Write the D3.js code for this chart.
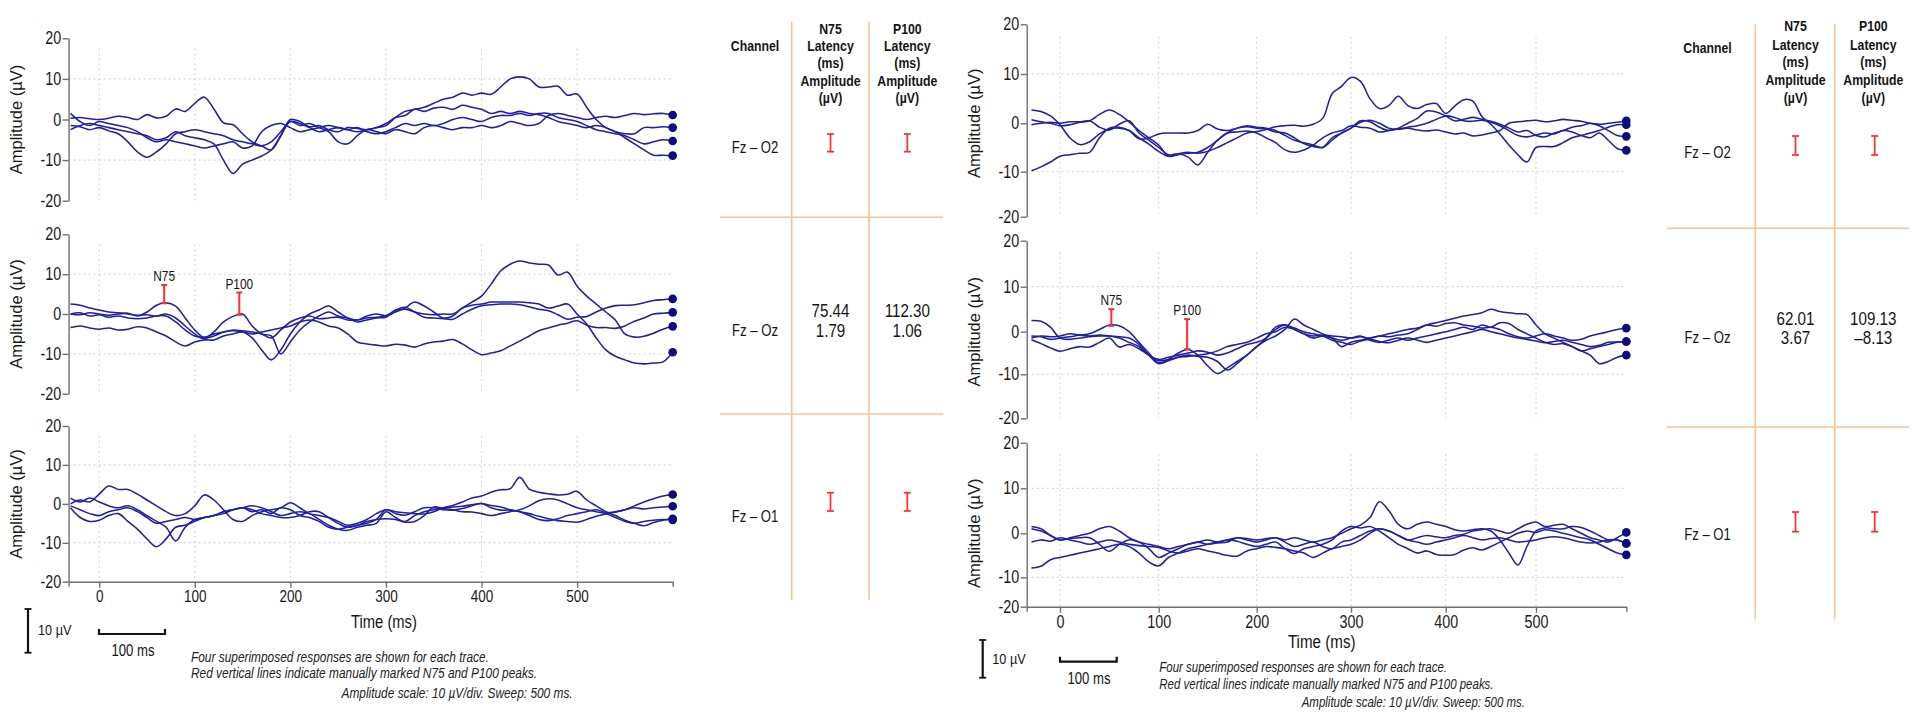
<!DOCTYPE html>
<html><head><meta charset="utf-8">
<script src="https://cdn.jsdelivr.net/npm/d3@7"></script>
<style>html,body{margin:0;padding:0;background:#fff;overflow:hidden}svg{display:block}</style>
</head><body>
<svg id="c" width="1912" height="727"></svg>
<script>
// ---------------- DATA ----------------
const timeMs = [-30,-20,-10,0,10,20,30,40,50,60,70,80,90,100,110,120,130,140,150,160,170,180,190,200,210,220,230,240,250,260,270,280,290,300,310,320,330,340,350,360,370,380,390,400,410,420,430,440,450,460,470,480,490,500,510,520,530,540,550,560,570,580,590,600];
const yTicks = [20,10,0,-10,-20];
const xTicks = [0,100,200,300,400,500];
const gridY = [10,-10];

// Left recording, Fz-O2
const leftO2_1 = [0.3,0.5,0.2,0,0.3,0.8,0.5,0,1.2,0.4, 0.8,2.6,2.0,4.0,5.5,2.6,-0.8,-1.3,-3.5,-5.5, -6.5,-7.5,-4.0,0,-0.5,-1.8,-1.5,-2.5,-3.0,-2.0, -2.2,-2.5,-2.0,-1.5,0.5,2.0,2.5,3.0,4.0,5.0, 5.5,6.5,6.0,6.5,6.2,8.0,10.0,10.5,10.0,8.0, 8.0,8.2,6.0,6.3,3.0,0,-2.0,-3.0,-4.5,-6.0, -7.5,-8.8,-8.8,-8.9];
const leftO2_2 = [-1.5,-1.8,-2.5,-2.0,-2.8,-3.5,-5.5,-8.0,-9.3,-8.0, -6.0,-3.5,-3.0,-2.5,-3.0,-3.5,-4.0,-5.0,-5.5,-6.0, -6.5,-5.5,-3.0,-0.5,-1.0,-2.0,-3.0,-2.5,-2.0,-2.5, -3.0,-2.5,-2.0,-1.0,0.5,1.0,2.5,2.0,2.8,3.0, 2.5,3.5,3.0,2.5,1.5,2.0,1.5,2.0,1.5,1.2, 0.5,-0.5,-1.0,-1.5,-2.0,-1.5,-2.0,-3.0,-3.5,-3.5, -2.0,-2.0,-1.8,-2.0];
const leftO2_3 = [-2.5,-1.5,-1.0,-1.5,-2.0,-2.5,-3.0,-3.5,-4.0,-5.0, -4.5,-3.0,-4.0,-4.5,-5.0,-6.0,-10.0,-13.3,-11.0,-10.0, -9.0,-7.5,-4.0,-0.5,-1.5,-1.0,-2.0,-3.0,-5.5,-6.0, -4.0,-2.5,-3.0,-3.5,-2.5,-3.0,-3.5,-2.0,-1.5,-2.0, -2.5,-2.0,-2.0,-1.5,-2.0,-1.5,-0.5,-1.0,-1.5,-1.0, 1.0,1.5,1.0,0.5,0,0.5,0.8,0.5,1.0,1.5, 1.2,1.4,1.5,1.1];
const leftO2_4 = [1.5,-0.5,-1.5,-0.5,-1.0,-1.5,-2.0,-3.0,-4.5,-5.5, -5.0,-5.5,-6.0,-6.5,-7.0,-6.5,-6.0,-5.5,-7.0,-6.5, -3.0,-1.5,-1.0,-2.0,-3.0,-2.5,-2.0,-1.5,-2.0,-2.5, -2.0,-3.0,-3.5,-3.0,-2.0,-1.0,-1.5,-1.0,-1.5,-1.0, 0,0.5,0,-0.5,0.5,1.0,1.0,1.5,1.0,1.5, 1.5,0.5,0,-0.5,-1.5,-2.5,-3.0,-3.5,-4.0,-5.0, -6.0,-5.5,-5.0,-5.3];
// Left recording, Fz-Oz
const leftOz_1 = [0,-0.2,0.3,0,-0.3,0,0.2,-0.5,0.5,2.2, 2.8,2.0,-1.0,-4.0,-6.0,-5.5,-4.5,-4.0,-4.2,-4.5, -5.0,-6.0,-4.0,-2.0,-1.0,-0.5,-1.2,-1.0,-0.8,-1.5, -1.5,-1.0,-0.8,-0.5,0.5,1.5,3.0,2.0,0.5,-1.0, -0.5,1.5,2.2,2.5,3.0,3.0,3.0,3.0,2.8,2.5, 1.5,2.0,2.5,0,-2.5,-6.0,-9.0,-10.6,-11.5,-12.3, -12.5,-12.3,-12.0,-9.6];
const leftOz_2 = [2.5,2.2,1.5,1.0,0.5,0.3,0,-0.3,-0.2,-0.5, 0,-1.0,-3.0,-5.0,-6.2,-4.5,-2.0,-0.6,0,-3.0, -5.0,-5.5,-10.0,-7.0,-4.0,-2.0,-0.5,0.5,-0.5,-1.0, -1.5,-0.5,0,-0.4,1.0,1.7,0.5,-0.8,-1.0,-1.2, -1.3,0,1.2,2.1,2.3,2.5,2.5,2.3,1.8,1.2, 0.8,-0.2,-1.3,-0.8,-0.6,0.5,1.5,2.1,2.2,2.3, 2.8,3.4,3.6,3.8];
const leftOz_3 = [-3.4,-3.0,-3.5,-3.8,-3.5,-4.0,-3.8,-3.2,-3.5,-4.5, -5.5,-7.0,-8.0,-7.0,-6.5,-6.5,-5.5,-5.0,-4.5,-6.0, -9.0,-11.5,-9.0,-5.0,-2.0,0,1.0,2.0,0.5,-1.0, -2.0,-1.5,-1.0,-0.8,0.8,1.2,0.5,0,-0.2,0, 0,1.5,3.0,4.5,7.5,10.8,12.5,13.3,12.8,12.5, 12.3,9.8,10.5,7.0,4.5,2.5,0.5,-1.5,-5.0,-5.8, -5.6,-4.8,-3.8,-3.1];
const leftOz_4 = [0,0.3,-0.5,-0.2,-0.8,-0.5,-1.0,-1.2,-1.0,-0.5, -0.5,-2.0,-4.0,-5.5,-5.8,-5.0,-4.5,-4.2,-4.5,-5.0, -4.5,-4.0,-3.5,-3.0,-2.0,-1.5,-2.0,-3.0,-3.5,-5.0, -7.0,-7.5,-7.8,-8.0,-7.6,-7.8,-8.3,-7.5,-7.0,-6.8, -6.4,-7.5,-9.0,-10.2,-9.8,-9.2,-8.0,-6.8,-5.5,-4.2, -3.5,-2.8,-2.3,-1.7,-2.8,-3.4,-3.4,-3.6,-3.0,-1.8, -1.0,0,0.2,0.4];
// Left recording, Fz-O1
const leftO1_1 = [0,1.0,0.5,2.5,4.6,3.7,3.7,2.5,1.0,-0.5, -2.0,-3.0,-2.5,-0.5,2.3,1.0,-1.5,-4.0,-4.5,-3.0, -2.0,-1.5,-1.0,0.3,-1.0,-2.5,-3.0,-3.5,-4.5,-5.5, -5.0,-4.0,-2.5,-1.5,-2.0,-2.3,-2.5,-2.6,-2.0,-1.0, -0.4,0.5,1.5,2.0,3.0,3.6,3.9,6.8,3.8,3.0, 2.6,2.3,2.5,3.2,1.0,-0.5,-2.0,-3.0,-4.2,-5.0, -5.6,-4.8,-4.2,-3.8];
const leftO1_2 = [1.5,0.5,1.5,0.5,-0.5,-1.0,-0.5,-1.5,-3.0,-4.5, -6.0,-9.5,-6.0,-4.0,-3.5,-3.0,-2.0,-1.5,-1.0,-2.0, -1.5,-2.5,-1.0,-1.5,-3.0,-3.5,-4.5,-6.0,-6.5,-6.0, -5.5,-5.0,-4.0,-1.5,-2.5,-2.9,-2.0,-1.0,-1.0,-1.5, -1.6,-1.2,-0.5,0.1,-1.0,-1.6,-1.6,-2.0,-2.5,-3.2, -3.8,-4.3,-4.5,-4.7,-4.0,-3.2,-2.6,-2.1,-1.5,-0.5, 0.5,1.3,2.0,2.4];
const leftO1_3 = [-0.5,-1.5,-2.5,-3.0,-2.0,-1.5,-1.0,-2.0,-3.5,-5.0, -4.5,-4.0,-3.5,-4.0,-3.5,-3.0,-2.0,-1.5,-1.0,-0.5, -1.0,-2.0,-3.0,-2.5,-2.0,-2.5,-4.0,-5.5,-6.5,-6.8, -6.0,-5.5,-5.0,-2.0,-3.5,-4.5,-3.0,-2.0,-1.5,-1.0, -0.8,-0.6,-0.2,0.1,-0.4,-0.8,-1.5,-2.0,-3.0,-4.0, -4.3,-3.8,-3.0,-2.5,-2.0,-1.5,-2.2,-2.0,-1.5,-1.0, -1.3,-1.0,-0.8,-0.6];
const leftO1_4 = [-1.0,-3.5,-4.5,-4.2,-3.0,-2.5,-4.5,-6.5,-9.0,-11.0, -9.0,-6.0,-5.5,-4.5,-3.5,-3.0,-2.5,-1.5,-1.0,-1.5, -2.5,-3.0,-3.5,-3.5,-3.0,-2.0,-2.0,-3.5,-5.0,-6.0, -5.5,-4.5,-4.0,-3.8,-4.0,-4.7,-4.5,-3.0,-0.8,-1.2, -1.5,-2.0,-2.1,-2.5,-3.0,-2.5,-2.0,-1.5,-0.5,0.8, 1.3,1.0,0,-1.0,-1.5,-2.0,-2.5,-3.5,-4.5,-5.0, -4.5,-4.2,-4.0,-4.1];

// Right recording, Fz-O2
const rightO2_1 = [2.7,2.4,1.5,-0.3,-3.0,-4.4,-3.8,-2.2,-1.2,-1.0, -1.5,-3.0,-4.3,-5.8,-6.8,-6.3,-6.0,-6.2,-5.8,-5.0, -4.0,-3.0,-2.0,-1.7,-1.3,-0.7,-0.5,-0.4,-0.6,-0.2, 1.0,6.0,7.5,9.3,8.5,5.0,3.0,3.6,5.5,3.6, 3.0,3.8,4.0,2.0,3.5,4.8,4.5,1.4,-0.2,-2.2, -4.5,-6.5,-8.0,-5.0,-4.8,-4.8,-4.0,-3.0,-2.5,-2.0, -1.5,-0.8,-0.3,-0.3];
const rightO2_2 = [0.7,0.3,0,-0.5,-0.3,0.2,0.5,1.8,2.7,1.8, 0.3,-1.5,-3.0,-4.5,-6.8,-6.5,-6.2,-6.0,-5.0,-3.5, -2.0,-1.0,-0.5,-0.8,-1.0,-1.5,-2.5,-3.5,-4.0,-4.5, -5.0,-3.5,-2.0,-1.0,0.2,0.6,0,-1.0,-1.2,-1.0, -1.4,-1.6,-1.4,-1.8,-2.2,-2.0,-2.6,-2.4,-2.0,-1.5, 0,0.3,0.5,0.6,0.3,0.5,0.8,0.6,0.4,0, -0.5,-1.5,-2.5,-2.7];
const rightO2_3 = [-0.3,0,0.2,0,0.3,0.3,0.5,-0.8,-1.4,-0.2, 0.5,-2.0,-3.5,-5.0,-6.5,-6.3,-7.0,-8.6,-6.0,-3.5, -2.0,-1.8,-1.6,-2.0,-3.0,-4.0,-5.5,-6.0,-5.5,-4.5, -3.0,-2.0,-1.5,-0.5,-0.8,-1.0,-1.8,-1.5,-1.2,-0.8, -0.5,0,0.8,1.5,1.2,0.5,0.4,0.6,0.2,-0.5, -1.5,-2.5,-2.8,-2.4,-2.0,-2.2,-1.5,-1.8,-2.5,-3.0, -2.0,-3.5,-5.2,-5.6];
const rightO2_4 = [-9.8,-9.0,-8.0,-6.8,-6.5,-6.2,-6.0,-3.0,-1.0,-0.8, -1.5,-3.2,-3.0,-2.2,-2.0,-2.0,-2.0,-1.5,-0.2,-1.2, -1.5,-1.0,-0.7,-1.0,-1.2,-1.8,-2.0,-3.0,-4.2,-4.8, -5.0,-3.0,-2.0,-1.0,0.5,0.3,-0.8,-1.5,-1.0,0, 1.0,2.5,2.3,1.5,0.5,0.8,1.2,0.8,0.4,-0.2, -1.0,-1.8,-1.5,-2.5,-2.8,-2.0,-1.5,-0.8,-0.5,0, -0.2,0,0.2,0.5];
// Right recording, Fz-Oz
const rightOz_1 = [-1.0,-1.2,-1.8,-1.5,-1.2,-0.8,-0.5,0.5,1.5,1.3, 0,-2.5,-5.0,-7.3,-6.5,-5.0,-4.2,-5.5,-8.0,-9.8, -8.5,-7.0,-5.5,-3.5,-2.0,-1.0,0.5,2.8,1.5,0.5, -0.5,-1.5,-3.5,-2.5,-2.0,-1.5,-1.0,-1.2,-0.8,-0.5, 0.5,1.5,2.0,2.5,3.0,3.5,3.8,4.2,5.0,4.5, 4.2,4.0,3.8,1.5,-0.5,-1.5,-2.5,-3.5,-4.5,-5.5, -7.5,-7.0,-6.0,-5.5];
const rightOz_2 = [2.5,2.3,1.0,-1.5,-1.8,-1.5,-1.2,-1.0,-1.0,-1.5, -2.5,-3.5,-5.5,-6.8,-6.5,-6.0,-5.8,-5.5,-5.2,-4.5, -3.5,-3.0,-2.5,-1.5,-0.5,0,1.0,0.5,-0.5,-1.0, -0.8,-1.0,-1.2,-1.5,-1.2,-1.5,-1.0,-0.5,0,0.5, 0.8,1.5,1.2,1.8,2.0,1.5,1.2,0.8,1.0,0.5, -0.5,-1.2,-1.5,-1.0,-0.5,-1.0,-1.5,-2.0,-1.8,-1.0, -0.5,0,0.5,0.8];
const rightOz_3 = [-1.9,-2.8,-3.8,-4.6,-4.0,-3.5,-3.6,-2.5,-1.5,-3.6, -3.0,-4.0,-5.5,-6.5,-6.0,-5.5,-5.0,-4.5,-4.8,-5.5, -5.0,-4.0,-3.0,-2.5,-1.5,0.5,1.5,0.8,0,-0.5, -1.0,-2.0,-2.5,-3.0,-2.2,-1.8,-2.3,-2.6,-2.0,-1.5, -2.0,-2.5,-2.0,-1.5,-1.0,-0.5,0,0.5,0,-0.5, -1.0,-1.5,-1.8,-2.2,-2.6,-2.3,-2.0,-2.5,-3.0,-3.5, -3.2,-2.5,-2.4,-2.3];
const rightOz_4 = [-1.5,-1.0,-1.2,-1.0,-0.5,-0.8,-1.0,-0.8,-1.0,-1.2, -1.5,-3.0,-5.5,-7.5,-6.8,-6.0,-5.5,-5.8,-6.0,-7.0, -9.0,-7.5,-5.5,-3.5,-1.5,1.0,1.5,0.5,-0.5,-1.5, -1.0,-1.5,-2.0,-1.5,-1.0,-2.0,-2.5,-2.0,-1.5,-2.0, -1.5,-1.0,-0.5,0,0.5,1.0,0.5,1.5,1.0,2.0, 1.8,0.5,-0.5,-1.5,-2.5,-3.0,-2.8,-3.5,-4.5,-4.0, -3.5,-3.0,-2.5,-2.3];
// Right recording, Fz-O1
const rightO1_1 = [1.5,1.0,-0.5,-1.5,-1.0,-0.5,0,1.0,1.5,0.5, -1.0,-2.0,-2.5,-3.0,-3.5,-3.0,-2.5,-2.0,-1.5,-2.0, -1.5,-1.0,-1.2,-1.5,-1.2,-1.0,-1.5,-1.0,-1.5,-2.0, -1.5,-1.0,0,1.0,1.8,3.5,7.0,5.0,2.0,1.0, 2.0,2.5,2.0,1.5,0.8,0.5,0.8,1.0,0.5,-1.5, -4.5,-7.2,-3.0,0.5,1.2,1.0,1.0,1.5,1.3,0.5, -0.5,-1.5,-1.5,-2.3];
const rightO1_2 = [-7.9,-7.5,-6.0,-5.5,-5.0,-4.5,-4.0,-3.5,-3.0,-2.5, -3.0,-4.5,-6.5,-7.4,-5.5,-4.5,-3.5,-3.0,-2.5,-2.0, -1.5,-1.8,-2.5,-3.0,-2.5,-2.0,-3.5,-4.6,-3.5,-3.0, -2.5,-1.5,0.5,1.5,1.2,1.5,0.5,-1.0,-2.5,-3.5, -4.5,-4.0,-4.8,-5.0,-4.8,-3.8,-3.3,-3.8,-3.0,-2.0, -1.0,0,0.5,0.2,0.8,0.5,0,-0.5,-1.0,-1.5, -2.5,-3.5,-4.5,-4.9];
const rightO1_3 = [1.0,0.5,-0.5,-1.5,-1.2,-1.0,-1.0,-2.5,-4.1,-2.5, -1.5,-2.0,-3.5,-5.5,-4.5,-3.5,-2.5,-2.0,-2.5,-2.2, -2.0,-1.0,-1.5,-2.0,-1.5,-1.0,-2.0,-3.0,-2.5,-2.0, -3.0,-3.5,-2.0,-1.5,-0.5,0.5,1.0,0.5,-0.5,-1.5, -1.0,-0.5,-0.8,-1.0,-0.5,-0.2,0.5,0.8,1.0,0.5, 0,1.0,2.0,2.5,1.5,1.8,2.0,1.0,0,-1.0, -1.5,-2.0,-1.0,0.2];
const rightO1_4 = [-2.0,-1.5,-1.8,-1.0,-1.5,-2.0,-2.5,-2.0,-1.5,-2.0, -2.5,-2.8,-3.0,-3.2,-4.0,-4.5,-4.0,-3.5,-4.0,-4.5, -5.0,-5.2,-4.0,-3.5,-3.0,-3.2,-3.5,-4.0,-4.5,-5.5, -4.5,-3.5,-3.0,-2.5,-1.5,0,1.0,0.5,-0.5,-1.5, -2.0,-2.5,-2.0,-1.5,-1.0,-0.5,-1.0,-1.5,-1.2,-1.0, -1.5,-2.0,-1.8,-1.5,-1.0,-0.8,-1.0,-1.5,-2.0,-2.2, -2.0,-1.5,-1.5,-2.3];

// Manually marked peaks (ms, µV top, µV at trace)
const leftMarkers = [{label:"N75", t:68, top:7.3, bottom:2.7}, {label:"P100", t:146.6, top:5.4, bottom:-0.2}];
const rightMarkers = [{label:"N75", t:52, top:5.0, bottom:1.3}, {label:"P100", t:129, top:2.8, bottom:-4.1}];

// Table contents
const channels = ["Fz \u2013 O2", "Fz \u2013 Oz", "Fz \u2013 O1"];
const channelHeader = "Channel";
const n75Header = ["N75", "Latency", "(ms)", "Amplitude", "(\u00b5V)"];
const p100Header = ["P100", "Latency", "(ms)", "Amplitude", "(\u00b5V)"];
const leftN75Values = ["75.44", "1.79"];
const leftP100Values = ["112.30", "1.06"];
const rightN75Values = ["62.01", "3.67"];
const rightP100Values = ["109.13", "\u20138.13"];
const notes = ["Four superimposed responses are shown for each trace.",
               "Red vertical lines indicate manually marked N75 and P100 peaks.",
               "Amplitude scale: 10 \u00b5V/div. Sweep: 500 ms."];

// ---------------- LAYOUT ----------------
const svg = d3.select('#c');
const cv = document.createElement('canvas').getContext('2d');
function mw(f){ cv.font = '50px ' + f; return cv.measureText('Amplitude Latency 0123456789').width; }
const NARROW = mw("'Liberation Sans Narrow'") < 0.9 * mw("'Liberation Sans'");
const HFONT = NARROW ? "'Liberation Sans Narrow','Arial Narrow',sans-serif" : "'Liberation Sans',Arial,sans-serif";
const SX = NARROW ? 1 : 0.82;
const TRACE = '#2020a4', DOT = '#0b0b80', RED = '#ff2d2d', ORANGE = '#f7c39a', AXIS = '#707070';

function txt(g, x, y, s, o = {}) {
  return g.append('text')
    .attr('transform', `translate(${x},${y}) scale(${SX},1)`)
    .attr('text-anchor', o.anchor || 'middle')
    .attr('dy', '0.35em')
    .style('font-family', HFONT).style('font-size', (o.size || 14) + 'px')
    .style('font-weight', o.weight || 400).style('font-style', o.italic ? 'italic' : 'normal')
    .attr('fill', o.fill || '#151515').text(s);
}
function ibeam(g, x, y1, y2, w, sw) {
  g.append('line').attr('x1', x).attr('x2', x).attr('y1', y1).attr('y2', y2).attr('stroke', RED).attr('stroke-width', sw);
  [y1, y2].forEach(yy => g.append('line').attr('x1', x - w/2).attr('x2', x + w/2).attr('y1', yy).attr('y2', yy).attr('stroke', RED).attr('stroke-width', sw));
}
function styleAxis(a, size) {
  a.select('.domain').attr('stroke', AXIS).attr('stroke-width', 1.4);
  a.selectAll('.tick line').attr('stroke', AXIS).attr('stroke-width', 1.4);
  a.selectAll('.tick text').attr('fill', '#1a1a1a').style('font-family', HFONT).style('font-size', size + 'px')
    .attr('transform', `scale(${SX},1)`);
}

function drawPlot(xs, yRange, traces, opt) {
  const y = d3.scaleLinear().domain(yTicks).range(yRange);
  const g = svg.append('g');
  const x0 = xs.range()[0], xEnd = xs(600);
  g.selectAll('line.vg').data(xTicks).join('line')
    .attr('x1', d => xs(d)).attr('x2', d => xs(d)).attr('y1', y(17.5)).attr('y2', y(-20))
    .attr('stroke', '#d2d2d2').attr('stroke-width', 1).attr('stroke-dasharray', '2,3');
  g.selectAll('line.hg').data(gridY).join('line')
    .attr('x1', x0).attr('x2', xEnd).attr('y1', d => y(d)).attr('y2', d => y(d))
    .attr('stroke', '#cccccc').attr('stroke-width', 1).attr('stroke-dasharray', '2,3');
  const ya = g.append('g').attr('transform', `translate(${x0},0)`)
    .call(d3.axisLeft(y).tickValues(yTicks).tickFormat(d => String(d)).tickSize(6).tickSizeOuter(0));
  styleAxis(ya, 17.5);
  g.append('text').attr('transform', `translate(${x0 - 52},${y(0)}) rotate(-90)`)
    .attr('text-anchor', 'middle').attr('dy', '0.35em')
    .style('font-family', "'Liberation Sans',Arial,sans-serif").style('font-size', '16.5px')
    .attr('fill', '#1a1a1a').text('Amplitude (\u00b5V)');
  if (opt.bottom) {
    const xa = g.append('g').attr('transform', `translate(0,${y(-20)})`)
      .call(d3.axisBottom(xs).tickValues(xTicks).tickFormat(d => String(d)).tickSize(6).tickSizeOuter(5));
    styleAxis(xa, opt.xTickSize);
  }
  const line = d3.line().x((d, i) => xs(timeMs[i])).y(d => y(d)).curve(d3.curveCatmullRom.alpha(0.5));
  g.selectAll('path.tr').data(traces).join('path').attr('class', 'tr')
    .attr('d', line).attr('fill', 'none').attr('stroke', TRACE).attr('stroke-width', 1.55)
    .attr('stroke-linejoin', 'round');
  g.selectAll('circle').data(traces).join('circle')
    .attr('cx', xs(timeMs[timeMs.length - 1])).attr('cy', d => y(d[d.length - 1])).attr('r', 4.3).attr('fill', DOT);
  if (opt.markers) {
    opt.markers.forEach(m => {
      const xm = xs(m.t);
      ibeam(g, xm, y(m.top), y(m.bottom), 6, 2);
      txt(g, xm, y(m.top) - 9, m.label, {size: 14.5});
    });
  }
  return y;
}

function drawTable(c, n75v, p100v) {
  const g = svg.append('g');
  c.colX.forEach(x => g.append('line').attr('x1', x).attr('x2', x).attr('y1', c.vTop).attr('y2', c.vBottom)
    .attr('stroke', ORANGE).attr('stroke-width', 1.6));
  c.hY.forEach(yy => g.append('line').attr('x1', c.hX[0]).attr('x2', c.hX[1]).attr('y1', yy).attr('y2', yy)
    .attr('stroke', ORANGE).attr('stroke-width', 1.6));
  txt(g, c.chanX, c.chanHeadY, channelHeader, {size: 15, weight: 700});
  n75Header.forEach((s, i) => txt(g, c.n75X, c.headYs[i], s, {size: 15, weight: 700}));
  p100Header.forEach((s, i) => txt(g, c.p100X, c.headYs[i], s, {size: 15, weight: 700}));
  channels.forEach((s, i) => txt(g, c.chanX, c.rowY[i], s, {size: 16}));
  n75v.forEach((s, i) => txt(g, c.n75X, c.valY[i], s, {size: 18.5}));
  p100v.forEach((s, i) => txt(g, c.p100X, c.valY[i], s, {size: 18.5}));
  c.beamY.forEach(b => { ibeam(g, c.n75X, b[0], b[1], 7, 1.7); ibeam(g, c.p100X + c.beamDx, b[0], b[1], 7, 1.7); });
}

function drawNotes(c) {
  const g = svg.append('g');
  g.append('line').attr('x1', c.vbarX).attr('x2', c.vbarX).attr('y1', c.vbarY[0]).attr('y2', c.vbarY[1]).attr('stroke', '#111').attr('stroke-width', 2.2);
  c.vbarY.forEach(yy => g.append('line').attr('x1', c.vbarX - 3.5).attr('x2', c.vbarX + 3.5).attr('y1', yy).attr('y2', yy).attr('stroke', '#111').attr('stroke-width', 1.8));
  txt(g, c.muX, c.muY, '10 \u00b5V', {size: 15.5, anchor: 'start'});
  g.append('path').attr('d', `M${c.hbar[0]},${c.hbarY - 5}V${c.hbarY}H${c.hbar[1]}V${c.hbarY - 5}`)
    .attr('fill', 'none').attr('stroke', '#111').attr('stroke-width', 2.2);
  txt(g, c.msX, c.msY, '100 ms', {size: 16});
  txt(g, c.timeX, c.timeY, 'Time (ms)', {size: c.timeSize});
  notes.forEach((s, i) => txt(g, c.noteX[i], c.noteY[i], s, {size: c.noteSize, anchor: 'start', italic: true, fill: '#222'}));
}

// Left panel
const xLeft = d3.scaleLinear().domain([-32, 600]).range([68.6, 672.7]);
drawPlot(xLeft, [38.3, 78.9, 119.5, 160.1, 200.7], [leftO2_1, leftO2_2, leftO2_3, leftO2_4], {});
drawPlot(xLeft, [234.3, 274.2, 314, 353.9, 393.7], [leftOz_1, leftOz_2, leftOz_3, leftOz_4], {markers: leftMarkers});
drawPlot(xLeft, [426, 464.9, 503.9, 542.8, 581.7], [leftO1_1, leftO1_2, leftO1_3, leftO1_4], {bottom: true, xTickSize: 16.5});

// Right panel
const xRight = d3.scaleLinear().domain([-35, 0, 100, 200, 300, 400, 500, 600])
  .range([1026.7, 1060, 1158.7, 1256.7, 1351, 1445.7, 1536, 1626.3]);
drawPlot(xRight, [24.3, 74, 123.3, 171.7, 216.7], [rightO2_1, rightO2_2, rightO2_3, rightO2_4], {});
drawPlot(xRight, [240.7, 286.7, 331.7, 374.3, 418.3], [rightOz_1, rightOz_2, rightOz_3, rightOz_4], {markers: rightMarkers});
drawPlot(xRight, [442.7, 488.3, 533.3, 577.3, 606.7], [rightO1_1, rightO1_2, rightO1_3, rightO1_4], {bottom: true, xTickSize: 17.5});

drawTable({colX: [791.7, 869], vTop: 21.7, vBottom: 600, hY: [217.3, 414], hX: [720, 943.3],
  chanX: 755, chanHeadY: 46, n75X: 830.5, p100X: 907.3, beamDx: 0, headYs: [28.3, 45.7, 63, 80.3, 97.6],
  rowY: [147.7, 330, 516.7], valY: [311, 331], beamY: [[134, 151.7], [492.7, 511]]}, leftN75Values, leftP100Values);
drawTable({colX: [1755.3, 1834.7], vTop: 24.3, vBottom: 619.3, hY: [228.3, 427], hX: [1667, 1909],
  chanX: 1707.5, chanHeadY: 47.7, n75X: 1795.5, p100X: 1873.3, beamDx: 1.4, headYs: [26, 44.3, 62, 79.3, 97.3],
  rowY: [152.7, 337.3, 534], valY: [318.3, 337.3], beamY: [[136, 155], [512, 531.7]]}, rightN75Values, rightP100Values);

drawNotes({vbarX: 28, vbarY: [609, 652.7], muX: 38, muY: 630, hbar: [99, 165], hbarY: 634, msX: 133, msY: 650,
  timeX: 384, timeY: 621.7, timeSize: 18, noteX: [191, 191, 341.5], noteY: [656.7, 673.3, 693.3], noteSize: 14.5});
drawNotes({vbarX: 982.7, vbarY: [640, 677.7], muX: 992.3, muY: 658.3, hbar: [1060, 1116.7], hbarY: 661.7, msX: 1089, msY: 678.3,
  timeX: 1321.7, timeY: 641.7, timeSize: 18.5, noteX: [1159.3, 1159.3, 1301.7], noteY: [666.7, 684, 701.7], noteSize: 14});
</script>
</body></html>
